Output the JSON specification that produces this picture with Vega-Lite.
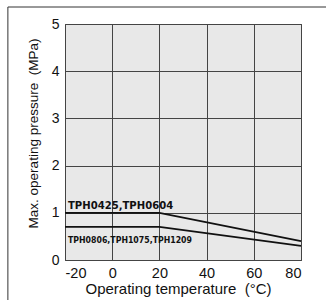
{
  "$schema": "https://vega.github.io/schema/vega-lite/v6.json",
  "width": 236,
  "height": 236,
  "autosize": {"type": "none"},
  "padding": {"left": 65, "top": 24, "right": 25, "bottom": 40},
  "background": "white",
  "config": {
    "view": {"fill": "#e8e8e8", "stroke": "#333333", "strokeWidth": 1},
    "font": "Liberation Sans",
    "axis": {
      "labelFont": "Liberation Sans",
      "titleFont": "Liberation Sans",
      "titleFontWeight": "normal",
      "labelColor": "#111",
      "titleColor": "#111",
      "gridColor": "#444444",
      "gridOpacity": 1,
      "gridWidth": 1,
      "ticks": false,
      "domain": false
    }
  },
  "datasets": {
    "lines": [
      {"series": "TPH0425,TPH0604", "t": -20, "p": 1},
      {"series": "TPH0425,TPH0604", "t": 20, "p": 1},
      {"series": "TPH0425,TPH0604", "t": 80, "p": 0.4},
      {"series": "TPH0806,TPH1075,TPH1209", "t": -20, "p": 0.7},
      {"series": "TPH0806,TPH1075,TPH1209", "t": 20, "p": 0.7},
      {"series": "TPH0806,TPH1075,TPH1209", "t": 80, "p": 0.3}
    ],
    "labels": [
      {"label": "TPH0425,TPH0604", "t": -20, "p": 1, "pos": "above"},
      {"label": "TPH0806,TPH1075,TPH1209", "t": -20, "p": 0.7, "pos": "below"}
    ],
    "frame": [
      {"edge": "left", "t": -44.2, "t2": -44.2, "p": 5.36, "p2": -0.85},
      {"edge": "top", "t": -44.2, "t2": 91, "p": 5.36, "p2": 5.36}
    ]
  },
  "layer": [
    {
      "data": {"name": "lines"},
      "mark": {"type": "line", "color": "#111111", "strokeWidth": 1.8},
      "encoding": {
        "x": {
          "field": "t", "type": "quantitative",
          "scale": {"domain": [-20, 80], "nice": false},
          "axis": {"values": [-20, 0, 20, 40, 60, 80], "labelExpr": "datum.value + ''", "title": "Operating temperature\u00a0\u00a0(°C)", "labelFontSize": 14.5, "titleFontSize": 15, "labelPadding": 6, "titlePadding": 2, "titleX": 113, "grid": true}
        },
        "y": {
          "field": "p", "type": "quantitative",
          "scale": {"domain": [0, 5], "nice": false},
          "axis": {"values": [0, 1, 2, 3, 4, 5], "title": "Max. operating pressure\u00a0\u00a0(MPa)", "labelFontSize": 14, "titleFontSize": 13.5, "labelPadding": 6, "titlePadding": 11, "titleY": 109, "grid": true}
        },
        "detail": {"field": "series"}
      }
    },
    {
      "data": {"name": "frame"},
      "mark": {"type": "rule", "color": "#333333", "strokeWidth": 1, "clip": false},
      "encoding": {
        "x": {"field": "t", "type": "quantitative"},
        "x2": {"field": "t2"},
        "y": {"field": "p", "type": "quantitative"},
        "y2": {"field": "p2"}
      }
    },
    {
      "data": {"name": "labels"},
      "transform": [{"filter": "datum.pos == 'above'"}],
      "mark": {"type": "text", "align": "left", "baseline": "alphabetic", "dx": 3, "dy": -4, "font": "DejaVu Sans Condensed", "fontWeight": "bold", "fontSize": 11.2, "color": "#111"},
      "encoding": {
        "x": {"field": "t", "type": "quantitative"},
        "y": {"field": "p", "type": "quantitative"},
        "text": {"field": "label"}
      }
    },
    {
      "data": {"name": "labels"},
      "transform": [{"filter": "datum.pos == 'below'"}],
      "mark": {"type": "text", "align": "left", "baseline": "alphabetic", "dx": 3, "dy": 16, "font": "DejaVu Sans Condensed", "fontWeight": "bold", "fontSize": 8.7, "color": "#111"},
      "encoding": {
        "x": {"field": "t", "type": "quantitative"},
        "y": {"field": "p", "type": "quantitative"},
        "text": {"field": "label"}
      }
    }
  ]
}
